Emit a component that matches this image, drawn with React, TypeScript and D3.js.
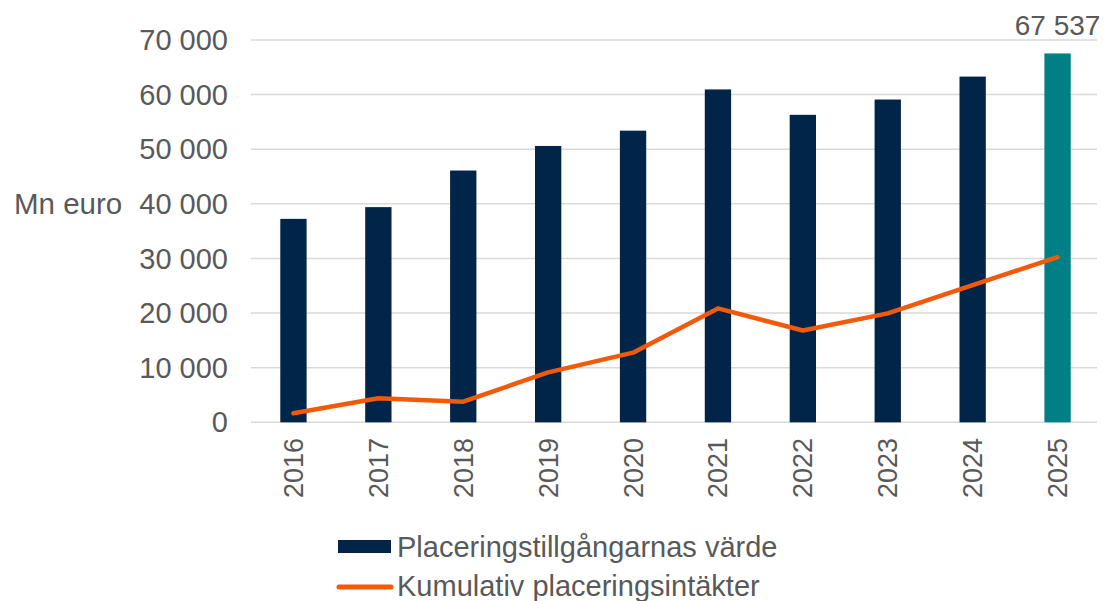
import { useEffect, useRef } from 'react'
import * as d3 from 'd3'

const years = ['2016', '2017', '2018', '2019', '2020', '2021', '2022', '2023', '2024', '2025']
const assetValues = [37250, 39400, 46100, 50600, 53400, 60950, 56300, 59100, 63300, 67537]
const cumulativeIncome = [1650, 4400, 3780, 9150, 12750, 20850, 16800, 19950, 25100, 30250]
const yTicks = [0, 10000, 20000, 30000, 40000, 50000, 60000, 70000]
const barLabel = 'Placeringstillgångarnas värde'
const lineLabel = 'Kumulativ placeringsintäkter'
const unitLabel = 'Mn euro'

const W = 1105
const H = 601
const FONT = '"Liberation Sans", Arial, sans-serif'
const TEXT = '#595959'
const GRID = '#d9d9d9'
const NAVY = '#002548'
const TEAL = '#007f86'
const ORANGE = '#f05a0a'

const fmt = (d: number) => d3.format(',')(d).replace(/,/g, ' ')

export default function App() {
  const svgRef = useRef<SVGSVGElement>(null)

  useEffect(() => {
    const svg = d3.select(svgRef.current)
    svg.selectAll('*').remove()

    const x = d3.scaleBand().domain(years).range([251, 1100]).paddingInner(0.69).paddingOuter(0.345)
    const y = d3.scaleLinear().domain([0, 70000]).range([422.3, 40])

    const data = years.map((yr, i) => ({ yr, bar: assetValues[i], line: cumulativeIncome[i] }))

    // gridlines
    svg.append('g')
      .selectAll('line')
      .data(yTicks)
      .join('line')
      .attr('x1', 251)
      .attr('x2', 1097)
      .attr('y1', (d) => y(d))
      .attr('y2', (d) => y(d))
      .attr('stroke', GRID)
      .attr('stroke-width', 1.5)

    // y tick labels
    svg.append('g')
      .selectAll('text')
      .data(yTicks)
      .join('text')
      .attr('x', 228)
      .attr('y', (d) => y(d))
      .attr('dy', '0.35em')
      .attr('text-anchor', 'end')
      .style('font-family', FONT)
      .style('font-size', '29px')
      .style('fill', TEXT)
      .text(fmt)

    svg.append('text')
      .attr('x', 14)
      .attr('y', y(40000))
      .attr('dy', '0.35em')
      .style('font-family', FONT)
      .style('font-size', '29.5px')
      .style('fill', TEXT)
      .text(unitLabel)

    // bars
    svg.append('g')
      .selectAll('rect')
      .data(data)
      .join('rect')
      .attr('x', (d) => x(d.yr)!)
      .attr('y', (d) => y(d.bar))
      .attr('width', x.bandwidth())
      .attr('height', (d) => y(0) - y(d.bar))
      .attr('fill', (d, i) => (i === data.length - 1 ? TEAL : NAVY))

    // value label on the last bar
    const last = data[data.length - 1]
    svg.append('text')
      .attr('x', x(last.yr)! + x.bandwidth() / 2)
      .attr('y', y(last.bar) - 18)
      .attr('text-anchor', 'middle')
      .style('font-family', FONT)
      .style('font-size', '28px')
      .style('fill', TEXT)
      .text(fmt(last.bar))

    // line
    const line = d3.line<{ yr: string; line: number }>()
      .x((d) => x(d.yr)! + x.bandwidth() / 2)
      .y((d) => y(d.line))
    svg.append('path')
      .datum(data)
      .attr('d', line)
      .attr('fill', 'none')
      .attr('stroke', ORANGE)
      .attr('stroke-width', 4.5)
      .attr('stroke-linejoin', 'round')
      .attr('stroke-linecap', 'round')

    // x labels (rotated)
    svg.append('g')
      .selectAll('text')
      .data(years)
      .join('text')
      .attr('transform', (d) => `translate(${x(d)! + x.bandwidth() / 2},438) rotate(-90)`)
      .attr('dy', '0.35em')
      .attr('text-anchor', 'end')
      .style('font-family', FONT)
      .style('font-size', '27px')
      .style('fill', TEXT)
      .text((d) => d)

    // legend
    const lg = svg.append('g')
    lg.append('rect').attr('x', 338).attr('y', 540).attr('width', 53).attr('height', 13).attr('fill', NAVY)
    lg.append('text')
      .attr('x', 397)
      .attr('y', 557)
      .style('font-family', FONT)
      .style('font-size', '29px')
      .style('fill', TEXT)
      .text(barLabel)
    lg.append('line')
      .attr('x1', 339).attr('x2', 391).attr('y1', 587).attr('y2', 587)
      .attr('stroke', ORANGE).attr('stroke-width', 5).attr('stroke-linecap', 'round')
    lg.append('text')
      .attr('x', 397)
      .attr('y', 596)
      .style('font-family', FONT)
      .style('font-size', '29px')
      .style('fill', TEXT)
      .text(lineLabel)
  }, [])

  return (
    <svg
      ref={svgRef}
      width={W}
      height={H}
      style={{ position: 'absolute', left: 0, top: 0, background: '#fff' }}
    />
  )
}
